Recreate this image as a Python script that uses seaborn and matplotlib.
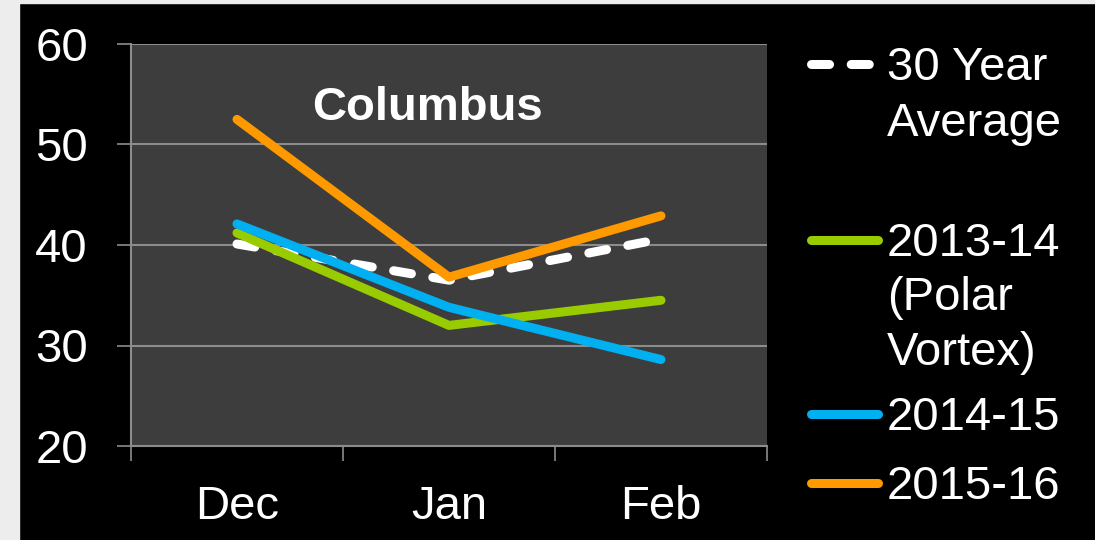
import pandas as pd
import numpy as np
import matplotlib.pyplot as plt
import seaborn as sns
from matplotlib.lines import Line2D
from matplotlib.patches import Rectangle

# Columbus winter averages (Dec-Feb)
months = ["Dec", "Jan", "Feb"]
avg_30yr = [40.1, 36.5, 40.6]
winter_1314 = [41.2, 32.0, 34.5]
winter_1415 = [42.1, 33.8, 28.6]
winter_1516 = [52.5, 36.8, 42.9]

series_names = ["30 Year Average", "2013-14 (Polar Vortex)", "2014-15", "2015-16"]
legend_lines = [["30 Year", "Average"], ["2013-14", "(Polar", "Vortex)"], ["2014-15"], ["2015-16"]]
colors = ["#FFFFFF", "#99CC00", "#00B0F0", "#FF9900"]
y_ticks = [20, 30, 40, 50, 60]


def main():
    df = pd.DataFrame({
        "month": months * 4,
        "temp": avg_30yr + winter_1314 + winter_1415 + winter_1516,
        "series": np.repeat(series_names, len(months)),
    })

    sns.set_style("dark")
    plt.rcParams["font.family"] = ["Liberation Sans", "DejaVu Sans"]

    W, H = 1095, 540
    fig = plt.figure(figsize=(W / 100, H / 100), dpi=100, facecolor="black")

    # light slide background peeking in at the left and top edges
    fig.add_artist(Rectangle((0, 0), 19 / W, 1, transform=fig.transFigure, color="#EDEDED", zorder=0))
    fig.add_artist(Rectangle((0, 1 - 3 / H), 1, 3 / H, transform=fig.transFigure, color="#EDEDED", zorder=0))

    ax = fig.add_axes([131 / W, 1 - 446 / H, (767 - 131) / W, (446 - 44) / H])
    ax.set_facecolor("#3D3D3D")

    palette = dict(zip(series_names, colors))
    dashes = {n: "" for n in series_names}
    dashes["30 Year Average"] = (2, 2.4)
    sns.lineplot(data=df, x="month", y="temp", hue="series", style="series",
                 hue_order=series_names, style_order=series_names,
                 palette=palette, dashes=dashes, linewidth=6.5, legend=False,
                 solid_capstyle="round", dash_capstyle="round", ax=ax, sort=False)

    ax.set_xlim(-0.5, 2.5)
    ax.set_ylim(20, 60)
    ax.set_yticks(y_ticks)
    ax.set_xlabel("")
    ax.set_ylabel("")

    ax.grid(axis="y", color="#8C8C8C", linewidth=1.5)
    ax.grid(axis="x", visible=False)
    ax.set_axisbelow(True)
    for side in ["top", "right"]:
        ax.spines[side].set_visible(False)
    for side in ["left", "bottom"]:
        ax.spines[side].set_visible(True)
        ax.spines[side].set_color("#8C8C8C")
        ax.spines[side].set_linewidth(1.5)

    ax.tick_params(axis="y", colors="#8C8C8C", labelcolor="white", labelsize=34,
                   length=10, width=1.2, pad=21, left=True)
    ax.set_xticks([-0.5, 0.5, 1.5, 2.5], minor=True)
    ax.tick_params(axis="x", which="minor", colors="#8C8C8C", length=11, width=1.2, bottom=True)
    ax.tick_params(axis="x", which="major", length=0, labelcolor="white", labelsize=34, pad=28)

    ax.text((427 - 131) / 636, (446 - 120) / 402, "Columbus", transform=ax.transAxes,
            ha="center", va="baseline", color="white", fontsize=34, fontweight="bold")

    # legend, drawn by hand so the key lines sit on the first text line
    baselines = [[80, 136], [256, 310, 365], [430], [499]]
    for name, color, lines, bases in zip(series_names, colors, legend_lines, baselines):
        hy = 1 - (bases[0] - 16) / H
        ls = (0, (2, 2.4)) if name == "30 Year Average" else "-"
        fig.add_artist(Line2D([811 / W, 878 / W], [hy, hy], transform=fig.transFigure,
                              color=color, linewidth=6.5, linestyle=ls,
                              solid_capstyle="round", dash_capstyle="round"))
        for line, b in zip(lines, bases):
            fig.text(887 / W, 1 - b / H, line, color="white", fontsize=34, va="baseline", ha="left")

    fig.savefig("out.png", dpi=100, facecolor="black")


if __name__ == "__main__":
    main()
